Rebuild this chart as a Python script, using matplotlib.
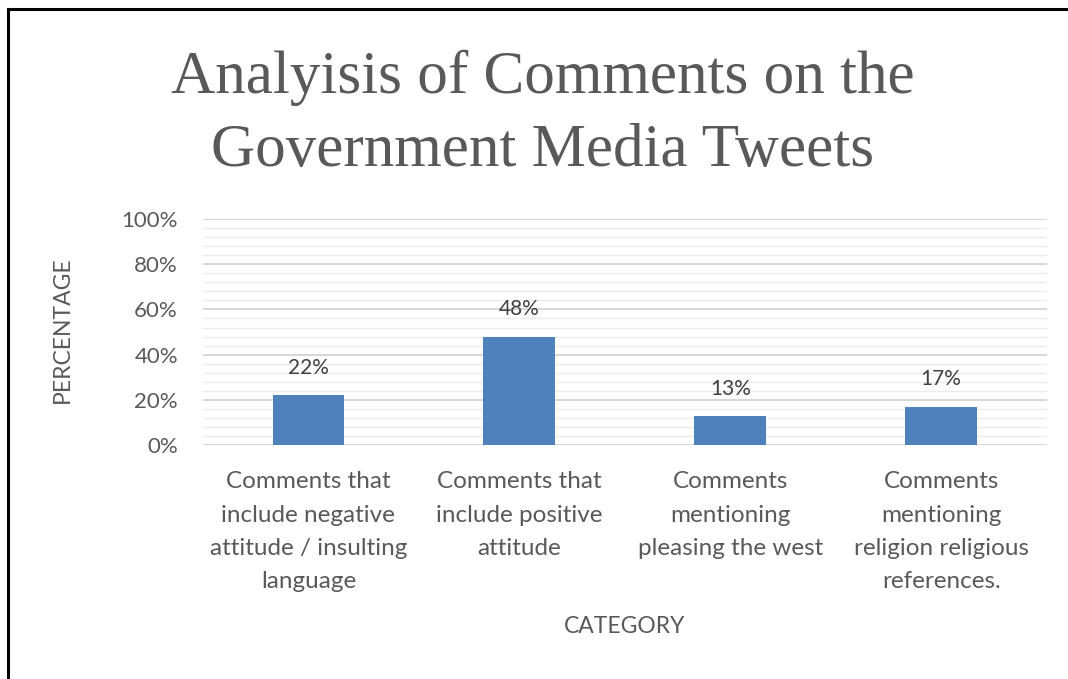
import matplotlib
matplotlib.use("Agg")
import matplotlib.pyplot as plt
from matplotlib.lines import Line2D
from matplotlib.ticker import MultipleLocator, FuncFormatter

categories = [
    "Comments that\ninclude negative\nattitude / insulting\nlanguage",
    "Comments that\ninclude positive\nattitude",
    "Comments\nmentioning\npleasing the west",
    "Comments\nmentioning\nreligion religious\nreferences.",
]
values = [22, 48, 13, 17]

title = "Analyisis of Comments on the\nGovernment Media Tweets"
grey = "#595959"
bar_color = "#4F81BD"
sans = ["Lato", "DejaVu Sans"]

fig = plt.figure(figsize=(10.68, 6.79), dpi=100)
ax = fig.add_axes([0.190, 0.3446, 0.790, 0.3328])

x = list(range(len(categories)))
ax.bar(x, values, width=0.34, color=bar_color, zorder=3)
for xi, v in zip(x, values):
    ax.text(xi, v + 12, f"{v}%", ha="center", va="center",
            fontsize=15, color="#404040", family=sans)

ax.set_xlim(-0.5, 3.5)
ax.set_ylim(0, 100)
ax.yaxis.set_major_locator(MultipleLocator(20))
ax.yaxis.set_minor_locator(MultipleLocator(4))
ax.yaxis.set_major_formatter(FuncFormatter(lambda v, p: f"{int(v)}%"))
ax.grid(axis="y", which="major", color="#D0D0D0", linewidth=1.2, zorder=0)
ax.grid(axis="y", which="minor", color="#EBEBEB", linewidth=1.0, zorder=0)
ax.tick_params(axis="both", which="both", length=0)
ax.tick_params(axis="y", pad=18, labelsize=16, labelcolor=grey)
ax.tick_params(axis="x", pad=19, labelsize=17.5, labelcolor=grey)
ax.set_xticks(x)
ax.set_xticklabels(categories, family=sans, linespacing=1.72)
for lbl in ax.get_yticklabels():
    lbl.set_family(sans)
for s in ax.spines.values():
    s.set_visible(False)

fig.text(0.058, 0.514, "PERCENTAGE", rotation=90, ha="center", va="center",
         fontsize=16.5, color=grey, family=sans)
fig.text(0.585, 0.077, "CATEGORY", ha="center", va="center",
         fontsize=16.5, color=grey, family=sans)

fig.text(0.508, 0.832, title, ha="center", va="center", fontsize=44,
         color=grey, family=["Liberation Serif", "DejaVu Serif"], linespacing=1.42)

# frame along the left and top edges
fig.add_artist(Line2D([0.0075, 0.0075], [0.0, 0.987], transform=fig.transFigure,
                      color="black", linewidth=2.2))
fig.add_artist(Line2D([0.0075, 1.0], [0.987, 0.987], transform=fig.transFigure,
                      color="black", linewidth=2.2))

fig.savefig("out.png", dpi=100, facecolor="white")
